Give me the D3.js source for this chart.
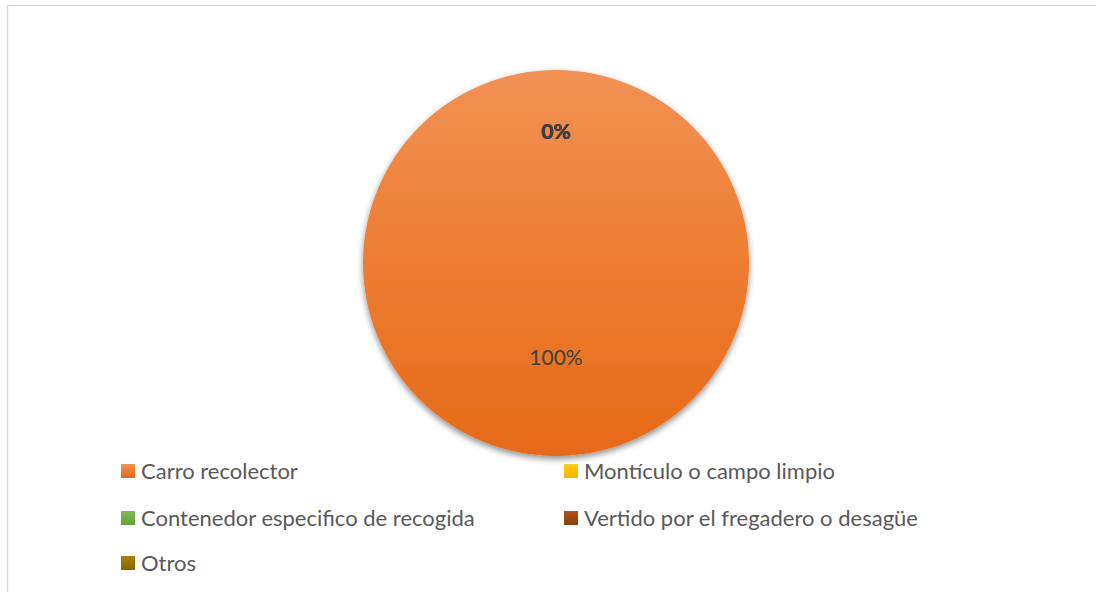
<!DOCTYPE html>
<html>
<head>
<meta charset="utf-8">
<script src="https://cdn.jsdelivr.net/npm/d3@7"></script>
<style>
  body { margin: 0; background: #fff; }
  svg { display: block; font-family: Lato, "Open Sans", sans-serif; }
</style>
</head>
<body>
<div id="chart"></div>
<script>
// data
const categories = ['Carro recolector', 'Montículo o campo limpio', 'Contenedor especifico de recogida', 'Vertido por el fregadero o desagüe', 'Otros'];
const values = [100, 0, 0, 0, 0];
const colors = ['#ED7D31', '#FFC000', '#70AD47', '#9E480E', '#997300'];
const colorsLight = ['#F29155', '#FFCA28', '#7DB858', '#AE5420', '#A8800F'];
const colorsDark = ['#E66A19', '#F2B600', '#64A03C', '#8E3E08', '#8A6700'];

const width = 1096, height = 592;
const cx = 556, cy = 263, radius = 193;

const svg = d3.select('#chart')
  .append('svg')
  .attr('width', width)
  .attr('height', height);

const defs = svg.append('defs');

// gradients, lighter at top, darker at bottom
colors.forEach((c, i) => {
  const g = defs.append('linearGradient')
    .attr('id', 'grad' + i)
    .attr('x1', 0).attr('y1', 0).attr('x2', 0).attr('y2', 1);
  g.append('stop').attr('offset', '0%').attr('stop-color', colorsLight[i]);
  g.append('stop').attr('offset', '50%').attr('stop-color', c);
  g.append('stop').attr('offset', '100%').attr('stop-color', colorsDark[i]);
});

const shadow = defs.append('filter')
  .attr('id', 'shadow')
  .attr('x', '-20%').attr('y', '-20%')
  .attr('width', '140%').attr('height', '140%');
shadow.append('feDropShadow')
  .attr('dx', 0).attr('dy', 3)
  .attr('stdDeviation', 3)
  .attr('flood-color', '#000')
  .attr('flood-opacity', 0.45);

// chart area border (only top/left visible in the frame)
svg.append('rect')
  .attr('x', 7.5).attr('y', 5.5)
  .attr('width', width + 20).attr('height', height + 20)
  .attr('fill', 'none')
  .attr('stroke', '#d9d9d9')
  .attr('stroke-width', 1.5);

const pie = d3.pie().sort(null).value(d => d.value);
const data = categories.map((name, i) => ({ name, value: values[i], i }));
const arcs = pie(data);
const total = d3.sum(values);

const arc = d3.arc().innerRadius(0).outerRadius(radius);

const graph = svg.append('g')
  .attr('transform', `translate(${cx}, ${cy})`);

graph.append('g')
  .attr('filter', 'url(#shadow)')
  .selectAll('path')
  .data(arcs.filter(d => d.value > 0))
  .join('path')
    .attr('d', arc)
    .attr('fill', d => `url(#grad${d.data.i})`);

// labels
const labelArcBig = d3.arc().innerRadius(radius * 0.98).outerRadius(0);
const labelArcZero = d3.arc().innerRadius(radius * 0.68).outerRadius(radius * 0.68);

graph.selectAll('text.label')
  .data(arcs)
  .join('text')
    .attr('class', 'label')
    .attr('transform', d => {
      const p = d.value > 0 ? labelArcBig.centroid(d) : labelArcZero.centroid(d);
      return `translate(${p[0]}, ${p[1]})`;
    })
    .attr('text-anchor', 'middle')
    .attr('dy', '0.35em')
    .attr('font-size', 21)
    .attr('font-weight', d => d.value > 0 ? 'normal' : 'bold')
    .attr('fill', '#404040')
    .text(d => Math.round(d.value / total * 100) + '%');

// legend
const legendX = [121, 564];
const legendY = [471, 518, 563];
const legend = svg.append('g');
const item = legend.selectAll('g')
  .data(data)
  .join('g')
    .attr('transform', (d, i) => `translate(${legendX[i % 2]}, ${legendY[Math.floor(i / 2)]})`);
item.append('rect')
  .attr('x', 0).attr('y', -7)
  .attr('width', 14).attr('height', 14)
  .attr('fill', d => `url(#grad${d.i})`);
item.append('text')
  .attr('x', 20)
  .attr('dy', '0.35em')
  .attr('font-size', 22)
  .attr('fill', '#595959')
  .text(d => d.name);
</script>
</body>
</html>
